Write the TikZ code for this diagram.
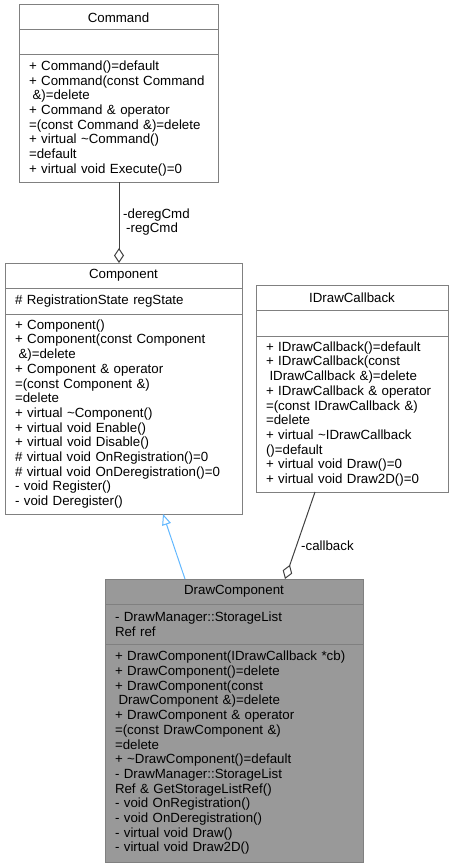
\documentclass[tikz,border=0pt]{standalone}
\usepackage{fontspec}
\setmainfont{Liberation Sans}
\usetikzlibrary{
  arrows.meta,
  positioning,
  calc,
}
\definecolor{boxLine}{HTML}{808080}
\definecolor{focusBg}{HTML}{999999}
\definecolor{linkLine}{HTML}{404040}
\definecolor{baseLine}{HTML}{63B8FF}
\newcommand{\umlfont}{\fontsize{13.3}{14.7}\selectfont\hyphenpenalty=10000}
\tikzset{
  classPart/.style={
    rectangle, draw=boxLine, line width=1pt, fill=white, outer sep=0pt,
    inner xsep=10pt, inner ysep=2pt, text width=#1, align=left,
    font=\umlfont,
  },
  classTitle/.style={
    classPart=#1, align=center, minimum height=25pt,
  },
  linkLabel/.style={
    inner sep=1pt, align=left, font=\umlfont,
  },
  arrowAggr/.style={
    {Diamond[open,length=15pt,width=10pt]}-, line width=1pt, draw=linkLine,
  },
  arrowBase/.style={
    -{Triangle[open,length=11pt,width=9pt]}, line width=1pt, draw=baseLine,
  },
}

\begin{document}
\begin{tikzpicture}[x=1pt,y=-1pt]
\useasboundingbox (0,0) rectangle (453,867);

% Command
\node[classTitle=179pt, anchor=north west] (cmdTitle) at (19,5) {Command};
\node[classPart=179pt, minimum height=25pt, below=0pt of cmdTitle] (cmdAttr) {};
\node[classPart=179pt, minimum height=127pt, below=0pt of cmdAttr] (cmdOps) {%
  + Command()=default\\
  + Command(const Command\\
  \hspace*{3.5pt}\&)=delete\\
  + Command \& operator\\
  =(const Command \&)=delete\\
  + virtual \textasciitilde Command()\\
  =default\\
  + virtual void Execute()=0};

% Component
\node[classTitle=217pt, anchor=north west] (compTitle) at (5,263) {Component};
\node[classPart=217pt, minimum height=26pt, below=0pt of compTitle] (compAttr) {%
  \# RegistrationState regState};
\node[classPart=217pt, minimum height=200pt, below=0pt of compAttr] (compOps) {%
  + Component()\\
  + Component(const Component\\
  \hspace*{3.5pt}\&)=delete\\
  + Component \& operator\\
  =(const Component \&)\\
  =delete\\
  + virtual \textasciitilde Component()\\
  + virtual void Enable()\\
  + virtual void Disable()\\
  \# virtual void OnRegistration()=0\\
  \# virtual void OnDeregistration()=0\\
  - void Register()\\
  - void Deregister()};

% IDrawCallback
\node[classTitle=172pt, anchor=north west] (cbTitle) at (256,285) {IDrawCallback};
\node[classPart=172pt, minimum height=26pt, below=0pt of cbTitle] (cbAttr) {};
\node[classPart=172pt, minimum height=156pt, below=0pt of cbAttr] (cbOps) {%
  + IDrawCallback()=default\\
  + IDrawCallback(const\\
  \hspace*{3.5pt}IDrawCallback \&)=delete\\
  + IDrawCallback \& operator\\
  =(const IDrawCallback \&)\\
  =delete\\
  + virtual \textasciitilde IDrawCallback\\
  ()=default\\
  + virtual void Draw()=0\\
  + virtual void Draw2D()=0};

% DrawComponent
\node[classTitle=238pt, fill=focusBg, anchor=north west] (drawTitle) at (105,579) {DrawComponent};
\node[classPart=238pt, fill=focusBg, minimum height=40pt, below=0pt of drawTitle] (drawAttr) {%
  - DrawManager::StorageList\\
  Ref ref};
\node[classPart=238pt, fill=focusBg, minimum height=218pt, below=0pt of drawAttr] (drawOps) {%
  + DrawComponent(IDrawCallback *cb)\\
  + DrawComponent()=delete\\
  + DrawComponent(const\\
  \hspace*{3.5pt}DrawComponent \&)=delete\\
  + DrawComponent \& operator\\
  =(const DrawComponent \&)\\
  =delete\\
  + \textasciitilde DrawComponent()=default\\
  - DrawManager::StorageList\\
  Ref \& GetStorageListRef()\\
  - void OnRegistration()\\
  - void OnDeregistration()\\
  - virtual void Draw()\\
  - virtual void Draw2D()};

% links
\coordinate (cmdFoot) at ($(cmdOps.south west)+(100,0)$);
\coordinate (compHead) at (cmdFoot |- compTitle.north);
\draw[arrowAggr] (compHead) -- (cmdFoot);
\node[linkLabel, anchor=west] (cmdLbl) at (122,222) {-deregCmd\\\hspace*{3pt}-regCmd};

\coordinate (drawBaseFoot) at ($(drawTitle.north west)+(80,0)$);
\coordinate (compFoot) at ($(compOps.south west)+(158,0)$);
\draw[arrowBase] (drawBaseFoot) -- (compFoot);

\coordinate (drawCbFoot) at ($(drawTitle.north west)+(180,0)$);
\coordinate (cbFoot) at ($(cbOps.south west)+(59,0)$);
\draw[arrowAggr] (drawCbFoot) -- (cbFoot);
\node[linkLabel, anchor=west] (cbLbl) at (300,546) {-callback};
\end{tikzpicture}
\end{document}
